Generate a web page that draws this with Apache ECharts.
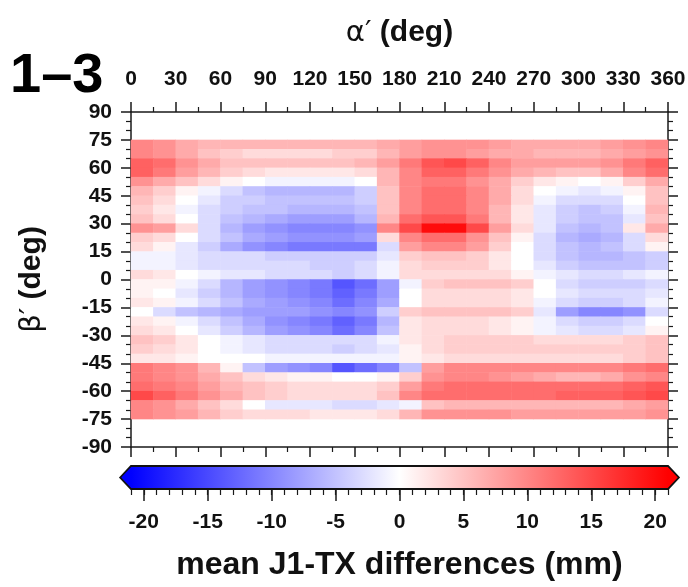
<!DOCTYPE html>
<html><head><meta charset="utf-8">
<script src="https://cdn.jsdelivr.net/npm/echarts@6/dist/echarts.min.js"></script>
<style>html,body{margin:0;padding:0;background:#fff}#c{width:688px;height:587px}</style>
</head><body><div id="c"></div>
<script>
// alpha' column centres (deg), 15 deg wide
const alphaCols = [7.5,22.5,37.5,52.5,67.5,82.5,97.5,112.5,127.5,142.5,157.5,172.5,187.5,202.5,217.5,232.5,247.5,262.5,277.5,292.5,307.5,322.5,337.5,352.5];
// beta' row centres (deg), 5 deg tall, top to bottom
const betaRows = [72.5,67.5,62.5,57.5,52.5,47.5,42.5,37.5,32.5,27.5,22.5,17.5,12.5,7.5,2.5,-2.5,-7.5,-12.5,-17.5,-22.5,-27.5,-32.5,-37.5,-42.5,-47.5,-52.5,-57.5,-62.5,-67.5,-72.5];
// mean J1-TX differences (mm), one row per beta' (top to bottom), one value per alpha' column
const meanDiff = [
 [10,9,7,6,6,6,6,6,6,6,6,7,8,9,9,9,8,7,7,7,7,8,9,10],
 [10,9,7,5,4,3,3,3,3,4,4,6,8,9,9,8,7,7,6,6,6,7,8,9],
 [13,12,9,7,5,5,5,5,5,5,6,8,11,14,15,13,10,8,8,8,8,9,11,13],
 [13,11,8,6,4,3,2,2,2,2,3,6,10,13,13,11,9,7,6,5,5,7,10,12],
 [9,7,5,3,1,0,-1,-1,-1,-1,0,6,10,11,11,9,7,4,2,1,0,1,4,7],
 [6,4,1,-1,-3,-5,-6,-6,-6,-6,-4,5,10,12,12,10,7,3,0,-1,-2,-1,1,5],
 [5,3,0,-2,-4,-4,-5,-5,-5,-5,-4,5,10,12,12,10,7,3,-1,-3,-3,-3,0,5],
 [4,2,-1,-3,-4,-5,-5,-6,-6,-6,-5,5,10,12,12,10,6,2,-2,-4,-5,-4,-1,6],
 [5,3,0,-3,-5,-6,-7,-8,-8,-8,-6,6,12,14,14,11,6,2,-2,-4,-5,-5,-2,5],
 [9,8,3,-3,-6,-8,-9,-10,-10,-10,-9,10,15,20,20,15,8,3,-2,-5,-6,-5,2,7],
 [4,3,0,-3,-5,-7,-8,-9,-9,-9,-8,3,10,12,12,9,5,1,-3,-6,-7,-6,-3,3],
 [3,1,-2,-4,-7,-9,-10,-11,-11,-11,-11,-3,8,10,10,8,4,0,-3,-5,-6,-5,-3,1],
 [-1,-1,-2,-3,-3,-3,-4,-4,-4,-4,-4,-2,4,5,5,4,2,0,-3,-5,-6,-6,-5,-4],
 [-1,-1,-2,-3,-3,-3,-3,-3,-4,-4,-3,-1,3,4,4,4,2,0,-2,-4,-5,-5,-5,-4],
 [3,2,0,-1,-2,-2,-3,-3,-3,-4,-3,-1,3,3,3,3,3,1,-1,-2,-3,-3,-2,-1],
 [1,1,-1,-3,-6,-8,-9,-10,-11,-14,-12,-8,-1,4,5,5,5,4,0,-3,-4,-4,-4,-3],
 [1,0,-2,-4,-6,-8,-9,-10,-11,-13,-11,-8,0,3,3,3,3,2,0,-2,-3,-3,-3,-2],
 [2,1,-1,-3,-5,-7,-8,-9,-10,-12,-10,-7,0,3,3,3,3,2,-1,-3,-4,-4,-3,-1],
 [0,-3,-5,-6,-7,-8,-8,-8,-9,-10,-9,-4,4,5,5,5,5,4,-2,-8,-10,-10,-9,-3],
 [2,1,-1,-3,-5,-7,-9,-10,-11,-13,-11,-6,2,3,3,3,2,1,-1,-3,-4,-4,-3,0],
 [3,2,0,-2,-4,-6,-8,-9,-10,-12,-10,-5,2,3,3,3,2,1,-1,-2,-3,-3,-2,1],
 [5,4,2,0,-1,-2,-3,-3,-3,-3,-3,-1,2,3,4,4,4,4,3,3,3,3,4,5],
 [4,3,2,0,-1,-2,-3,-3,-3,-4,-3,-2,1,3,4,4,4,4,4,4,4,4,4,5],
 [2,2,1,0,0,0,-1,-1,-1,-1,-1,-1,1,2,3,3,3,3,3,3,3,3,4,5],
 [11,10,9,6,1,-5,-8,-9,-10,-14,-12,-10,-5,8,10,10,10,10,10,10,10,10,11,12],
 [11,10,9,7,5,3,2,1,1,0,0,1,4,9,10,10,9,8,7,6,6,7,9,10],
 [12,11,10,8,6,5,4,3,3,3,3,4,8,11,12,12,12,12,12,12,12,12,13,14],
 [15,13,11,9,7,5,4,3,3,3,3,5,10,12,12,12,12,12,12,13,13,13,14,15],
 [10,9,7,5,3,0,-2,-2,-2,-3,-3,-2,-1,5,6,6,6,6,6,6,6,6,7,8],
 [10,9,8,6,4,3,3,3,2,2,2,3,6,9,9,9,9,8,8,8,8,8,8,9]
];
// full beta' grid (-90..90, 5 deg rows) for the category axis; rows outside +-75 stay empty
const betaAxisRows = [-87.5,-82.5,-77.5,-72.5,-67.5,-62.5,-57.5,-52.5,-47.5,-42.5,-37.5,-32.5,-27.5,-22.5,-17.5,-12.5,-7.5,-2.5,2.5,7.5,12.5,17.5,22.5,27.5,32.5,37.5,42.5,47.5,52.5,57.5,62.5,67.5,72.5,77.5,82.5,87.5];
const alphaTicks = [0,30,60,90,120,150,180,210,240,270,300,330,360];
const cbarLabels = [-20,-15,-10,-5,0,5,10,15,20];
const cbarMinor = [];
for (let v = -21; v <= 21; v++) cbarMinor.push(v);
const cMin = -21, cMax = 21;

const heatData = [];
betaRows.forEach((b, r) => {
  const yi = betaAxisRows.indexOf(b);
  meanDiff[r].forEach((v, c) => heatData.push([c, yi, v]));
});

const FONT = 'Liberation Sans';
const NARROW = '"Liberation Sans Narrow", "Liberation Sans", sans-serif';
const lineSt = {color: '#1a1a1a', width: 1.5};
const axLabel = {fontFamily: NARROW, fontWeight: 'bold', fontSize: 21, color: '#111'};
const nameRich = {
  a: {fontFamily: 'DejaVu Sans', fontSize: 29, fontWeight: 'normal', color: '#111'},
  b: {fontFamily: FONT, fontSize: 30, fontWeight: 'bold', color: '#111'}};

function frameAxisX(pos, showLabel) {
  return {
    type: 'value', gridIndex: 0, position: pos, min: 0, max: 360, interval: 30,
    axisLine: {show: true, onZero: false, lineStyle: lineSt},
    axisTick: {show: true, length: 10, lineStyle: lineSt},
    minorTick: {show: true, splitNumber: 2, length: 5, lineStyle: {color: '#1a1a1a', width: 1.2}},
    splitLine: {show: false}, minorSplitLine: {show: false},
    axisLabel: Object.assign({show: showLabel, margin: 22, customValues: alphaTicks}, axLabel),
    name: showLabel ? '{a|\u03B1\u2032} {b|(deg)}' : '',
    nameLocation: 'middle', nameGap: 64,
    nameTextStyle: {fontFamily: FONT, fontSize: 30, color: '#111', rich: nameRich}
  };
}
function frameAxisY(pos, showLabel) {
  return {
    type: 'value', gridIndex: 0, position: pos, min: -90, max: 90, interval: 15,
    axisLine: {show: true, onZero: false, lineStyle: lineSt},
    axisTick: {show: true, length: 10, lineStyle: lineSt},
    minorTick: {show: true, splitNumber: 3, length: 5, lineStyle: {color: '#1a1a1a', width: 1.2}},
    splitLine: {show: false}, minorSplitLine: {show: false},
    axisLabel: Object.assign({show: showLabel, margin: 19}, axLabel),
    name: showLabel ? '{a|\u03B2\u2032} {b|(deg)}' : '',
    nameLocation: 'middle', nameGap: 84, nameRotate: 90,
    nameTextStyle: {fontFamily: FONT, fontSize: 30, color: '#111', rich: nameRich}
  };
}

const chart = echarts.init(document.getElementById('c'), null, {renderer: 'canvas'});
chart.setOption({
  backgroundColor: '#ffffff',
  animation: false,
  graphic: [{
    type: 'text', left: 10, top: 49,
    style: {text: '1\u20133', fontFamily: FONT, fontWeight: 'bold', fontSize: 56, fill: '#000'}
  }],
  grid: [
    {left: 131, top: 112, width: 537, height: 335, outerBoundsMode: 'none'},
    {left: 131, top: 466, width: 537, height: 23, outerBoundsMode: 'none'},
    {left: 131, top: 466, width: 537, height: 23, outerBoundsMode: 'none'}
  ],
  xAxis: [
    {type: 'category', gridIndex: 0, data: alphaCols, show: false, position: 'bottom'},
    frameAxisX('top', true),
    frameAxisX('bottom', false),
    {type: 'value', gridIndex: 1, position: 'bottom', min: cMin, max: cMax,
      axisLine: {show: false}, splitLine: {show: false},
      axisTick: {show: true, length: 12, customValues: cbarLabels, lineStyle: lineSt},
      axisLabel: Object.assign({margin: 23, customValues: cbarLabels}, axLabel),
      name: 'mean J1-TX differences (mm)', nameLocation: 'middle', nameGap: 60,
      nameTextStyle: {fontFamily: FONT, fontWeight: 'bold', fontSize: 32, color: '#111'}},
    {type: 'value', gridIndex: 2, position: 'bottom', min: cMin, max: cMax,
      axisLine: {show: false}, splitLine: {show: false},
      axisTick: {show: true, length: 6, customValues: cbarMinor, lineStyle: {color: '#1a1a1a', width: 1.2}},
      axisLabel: {show: false}}
  ],
  yAxis: [
    {type: 'category', gridIndex: 0, data: betaAxisRows, show: false, position: 'left'},
    frameAxisY('left', true),
    frameAxisY('right', false),
    {type: 'value', gridIndex: 1, min: 0, max: 1, show: false},
    {type: 'value', gridIndex: 2, min: 0, max: 1, show: false}
  ],
  visualMap: {
    show: false, type: 'continuous', min: cMin, max: cMax, seriesIndex: 0, dimension: 2,
    inRange: {color: ['#0000ff', '#ffffff', '#ff0000']}
  },
  series: [
    {type: 'heatmap', xAxisIndex: 0, yAxisIndex: 0, data: heatData, progressive: 0,
      itemStyle: {borderWidth: 0}, emphasis: {disabled: true}},
    {type: 'custom', xAxisIndex: 3, yAxisIndex: 3, data: [[cMin, cMax]], silent: true, z: 5,
      renderItem: function (params, api) {
        const tl = api.coord([cMin, 1]);
        const br = api.coord([cMax, 0]);
        const lt = api.coord([cMin - 0.85, 0.5]);
        const rt = api.coord([cMax + 0.85, 0.5]);
        const grad = new echarts.graphic.LinearGradient(0, 0, 1, 0, [
          {offset: 0, color: '#0000ff'}, {offset: 0.5, color: '#ffffff'}, {offset: 1, color: '#ff0000'}]);
        return {type: 'group', children: [
          {type: 'rect', shape: {x: tl[0], y: tl[1], width: br[0] - tl[0], height: br[1] - tl[1]}, style: {fill: grad}},
          {type: 'polygon', shape: {points: [[lt[0], lt[1]], [tl[0], tl[1]], [tl[0], br[1]]]}, style: {fill: '#0000ff'}},
          {type: 'polygon', shape: {points: [[rt[0], rt[1]], [br[0], tl[1]], [br[0], br[1]]]}, style: {fill: '#ff0000'}},
          {type: 'polygon', shape: {points: [[lt[0], lt[1]], [tl[0], tl[1]], [br[0], tl[1]], [rt[0], rt[1]], [br[0], br[1]], [tl[0], br[1]]]},
            style: {fill: null, stroke: '#111', lineWidth: 1.8}}
        ]};
      }}
  ]
});
</script></body></html>
